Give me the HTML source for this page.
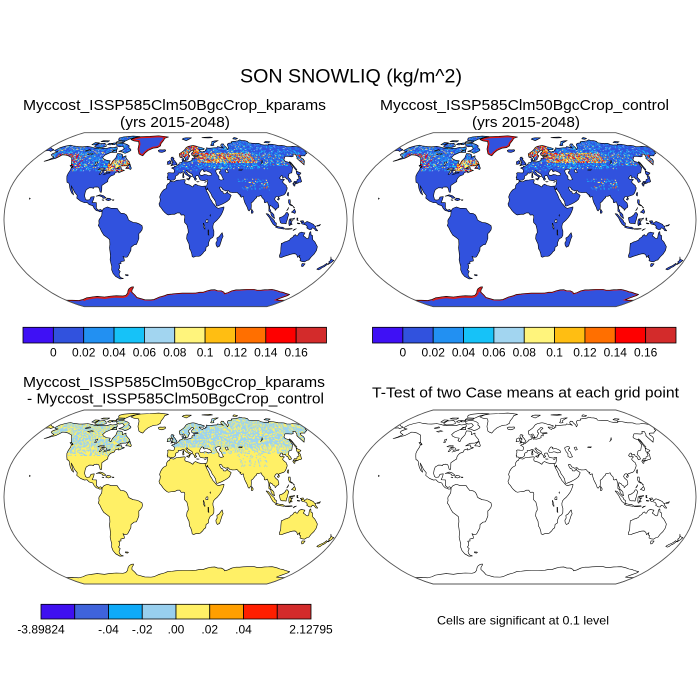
<!DOCTYPE html>
<html><head><meta charset="utf-8">
<style>html,body{margin:0;padding:0;background:#fff;}svg{display:block;}</style>
</head>
<body>
<svg id="s" width="700" height="700" viewBox="0 0 700 700" xmlns="http://www.w3.org/2000/svg" font-family="'Liberation Sans', Arial, sans-serif" fill="#000">
<rect width="700" height="700" fill="#fff"/>
<g id="maps"></g>

<text x="351" y="82.5" font-size="19" text-anchor="middle" textLength="222" lengthAdjust="spacingAndGlyphs">SON SNOWLIQ (kg/m^2)</text>

<text x="174.5" y="110" font-size="15" text-anchor="middle" textLength="303" lengthAdjust="spacingAndGlyphs">Myccost_ISSP585Clm50BgcCrop_kparams</text>
<text x="175" y="127" font-size="15" text-anchor="middle" textLength="110" lengthAdjust="spacingAndGlyphs">(yrs 2015-2048)</text>
<text x="524.5" y="110" font-size="15" text-anchor="middle" textLength="289" lengthAdjust="spacingAndGlyphs">Myccost_ISSP585Clm50BgcCrop_control</text>
<text x="526" y="127" font-size="15" text-anchor="middle" textLength="108" lengthAdjust="spacingAndGlyphs">(yrs 2015-2048)</text>

<text x="174" y="387" font-size="15" text-anchor="middle" textLength="302" lengthAdjust="spacingAndGlyphs">Myccost_ISSP585Clm50BgcCrop_kparams</text>
<text x="175.5" y="403.5" font-size="15" text-anchor="middle" textLength="297" lengthAdjust="spacingAndGlyphs">- Myccost_ISSP585Clm50BgcCrop_control</text>
<text x="525.5" y="397.5" font-size="15" text-anchor="middle" textLength="307" lengthAdjust="spacingAndGlyphs">T-Test of two Case means at each grid point</text>
<text x="523" y="624.5" font-size="12" text-anchor="middle" textLength="172" lengthAdjust="spacingAndGlyphs">Cells are significant at 0.1 level</text>

<g stroke="#000" stroke-width="0.8">
<rect x="23" y="327.3" width="30.35" height="15.7" fill="#3f10f5"/>
<rect x="53.35" y="327.3" width="30.35" height="15.7" fill="#3152de"/>
<rect x="83.7" y="327.3" width="30.35" height="15.7" fill="#2290f2"/>
<rect x="114.05" y="327.3" width="30.35" height="15.7" fill="#16c2f8"/>
<rect x="144.4" y="327.3" width="30.35" height="15.7" fill="#a2d5f0"/>
<rect x="174.75" y="327.3" width="30.35" height="15.7" fill="#fff47c"/>
<rect x="205.1" y="327.3" width="30.35" height="15.7" fill="#ffbe12"/>
<rect x="235.45" y="327.3" width="30.35" height="15.7" fill="#ff6f00"/>
<rect x="265.8" y="327.3" width="30.35" height="15.7" fill="#fe0000"/>
<rect x="296.15" y="327.3" width="30.35" height="15.7" fill="#d32b2b"/>
</g>
<g font-size="12" text-anchor="middle">
<text x="53.35" y="356.5">0</text>
<text x="83.7" y="356.5">0.02</text>
<text x="114.05" y="356.5">0.04</text>
<text x="144.4" y="356.5">0.06</text>
<text x="174.75" y="356.5">0.08</text>
<text x="205.1" y="356.5">0.1</text>
<text x="235.45" y="356.5">0.12</text>
<text x="265.8" y="356.5">0.14</text>
<text x="296.15" y="356.5">0.16</text>
</g>

<g stroke="#000" stroke-width="0.8">
<rect x="372.5" y="327.3" width="30.35" height="15.7" fill="#3f10f5"/>
<rect x="402.85" y="327.3" width="30.35" height="15.7" fill="#3152de"/>
<rect x="433.2" y="327.3" width="30.35" height="15.7" fill="#2290f2"/>
<rect x="463.55" y="327.3" width="30.35" height="15.7" fill="#16c2f8"/>
<rect x="493.9" y="327.3" width="30.35" height="15.7" fill="#a2d5f0"/>
<rect x="524.25" y="327.3" width="30.35" height="15.7" fill="#fff47c"/>
<rect x="554.6" y="327.3" width="30.35" height="15.7" fill="#ffbe12"/>
<rect x="584.95" y="327.3" width="30.35" height="15.7" fill="#ff6f00"/>
<rect x="615.3" y="327.3" width="30.35" height="15.7" fill="#fe0000"/>
<rect x="645.65" y="327.3" width="30.35" height="15.7" fill="#d32b2b"/>
</g>
<g font-size="12" text-anchor="middle">
<text x="402.85" y="356.5">0</text>
<text x="433.2" y="356.5">0.02</text>
<text x="463.55" y="356.5">0.04</text>
<text x="493.9" y="356.5">0.06</text>
<text x="524.25" y="356.5">0.08</text>
<text x="554.6" y="356.5">0.1</text>
<text x="584.95" y="356.5">0.12</text>
<text x="615.3" y="356.5">0.14</text>
<text x="645.65" y="356.5">0.16</text>
</g>

<g stroke="#000" stroke-width="0.8">
<rect x="41" y="604.3" width="33.75" height="14.7" fill="#3f10f0"/>
<rect x="74.75" y="604.3" width="33.75" height="14.7" fill="#3f63db"/>
<rect x="108.5" y="604.3" width="33.75" height="14.7" fill="#0eaaf8"/>
<rect x="142.25" y="604.3" width="33.75" height="14.7" fill="#98cfee"/>
<rect x="176" y="604.3" width="33.75" height="14.7" fill="#fff066"/>
<rect x="209.75" y="604.3" width="33.75" height="14.7" fill="#ff9f00"/>
<rect x="243.5" y="604.3" width="33.75" height="14.7" fill="#ff1f00"/>
<rect x="277.25" y="604.3" width="33.75" height="14.7" fill="#d32b2b"/>
</g>
<g font-size="12" text-anchor="middle">
<text x="41" y="633.5">-3.89824</text>
<text x="108.5" y="633.5">-.04</text>
<text x="142.25" y="633.5">-.02</text>
<text x="176" y="633.5">.00</text>
<text x="209.75" y="633.5">.02</text>
<text x="243.5" y="633.5">.04</text>
<text x="311" y="633.5">2.12795</text>
</g>
</svg>

<script>
(function(){
var R=64.33;
var T=[[1,0],[0.9986,0.062],[0.9954,0.124],[0.99,0.186],[0.9822,0.248],[0.973,0.31],[0.96,0.372],[0.9427,0.434],[0.9216,0.4958],[0.8962,0.5571],[0.8679,0.6176],[0.835,0.6769],[0.7986,0.7346],[0.7597,0.7903],[0.7186,0.8435],[0.6732,0.8936],[0.6213,0.9394],[0.5722,0.9761],[0.5322,1]];
function rob(lon,lat){var a=Math.min(Math.abs(lat),90)/5;var i=Math.floor(a);if(i>=18)i=17;var f=a-i;
var X=T[i][0]+(T[i+1][0]-T[i][0])*f,Y=T[i][1]+(T[i+1][1]-T[i][1])*f;
return [R*0.8487*X*lon*Math.PI/180,-R*1.3523*Y*(lat<0?-1:1)];}
function P(arr){var d='';for(var i=0;i<arr.length;i+=2){var p=rob(arr[i],arr[i+1]);d+=(i?'L':'M')+p[0].toFixed(2)+','+p[1].toFixed(2);}return d;}

var NA=[-168,65.5,-166,68.5,-161,70.3,-156,71.3,-150,70.4,-141,69.7,-135,69.5,-128,70,-120,69,-115,68,-108,68,-98,67.8,-94,69,-90,68.5,-85,69.5,-82,67,-87,64,-93,61,-94.5,58.5,-92,57,-87,55.5,-82,55,-82,52.5,-79,51.5,-79,54.5,-77,58,-78,62.3,-73,62,-70,61,-69,58.5,-65,60,-64,58,-61,56,-57,53.5,-56,52,-60,50.2,-66,50,-70,47.5,-65,48.5,-64,46.5,-61,46,-60,45.8,-63.5,44.5,-66,43.5,-66.5,45,-67,44.5,-70,43.7,-70.5,41.7,-74,40.5,-75.5,38.5,-76,37,-75.5,35.3,-78,33.8,-81,31.7,-80,27,-80.2,25.2,-81.5,25.8,-82.6,28,-84,30,-86,30.4,-89,30.2,-89.5,29,-91,29.5,-94,29.6,-97,27.8,-97.5,25,-97.5,22,-96,19,-94.5,18.2,-91.5,18.5,-90.5,21,-87,21.5,-87.5,18.5,-88.5,16,-84,15.8,-83.5,12,-83.5,10.5,-81,8.8,-79,9.5,-77.3,8.5,-78,7.5,-80,7.3,-81,8,-83.5,8.5,-85.8,10.5,-87.5,13,-91.5,14,-94,16,-96.5,15.7,-101,17.2,-105.5,20,-105.5,22.5,-109,25.5,-112.5,29.5,-114.7,31.5,-113,29,-110,24,-109.5,23,-112,24.8,-114.5,28,-116,30.5,-117.2,32.7,-118.5,34,-120.6,34.6,-122.5,37.7,-124,40.5,-124.3,43,-124,46.3,-124.7,48.4,-123,49,-127,51,-130,54.5,-134,58,-137.5,59,-141,60,-146,60.8,-150,61,-152,59,-154,57.5,-158,56.5,-162,55,-164.5,54.5,-161,56,-157.5,58.5,-162,59.8,-165,61,-165,62.5,-161,64.3,-164.5,64.5];
var GR=[-73,78,-68,80.5,-60,82,-45,82.6,-30,83.5,-20,82.5,-12,81.5,-18,79.5,-19,77,-22,73,-22,70.5,-26,68.5,-32,68,-38,65.5,-41,63,-43,60,-46,60.8,-49,62,-51,64.5,-53,67,-54,70,-55,72.5,-58,75.5,-66,76.3];
var SA=[-77.3,8.5,-75.5,10.5,-72,11.8,-68,10.6,-64,10.6,-61.5,10.5,-60,8.5,-57.5,6,-54,5.7,-51.5,4.3,-50,1.8,-49.5,0,-48,-1,-44.5,-2.5,-41,-2.9,-38.5,-3.7,-35.2,-5.5,-34.8,-7.5,-35.3,-9.5,-37,-11.5,-38.8,-13,-39,-17.5,-40.5,-20.5,-42,-23,-44.5,-23.3,-48,-25.5,-48.6,-28.5,-50.5,-31,-52.5,-33.5,-54,-34.7,-56.5,-34.8,-58.3,-34,-57.5,-36.3,-57.7,-38.2,-62,-39,-62.3,-40.8,-65,-41,-64.5,-42.5,-65.5,-45,-67.5,-46.5,-66,-48,-68.5,-50.5,-69,-52.3,-68.5,-54,-65.5,-55,-70,-55.3,-74,-53,-75.5,-50,-75.5,-46.5,-74,-43.5,-73.8,-41,-73.5,-37.2,-72,-33.5,-71.5,-30,-71.4,-26,-70.5,-23,-70.2,-18.5,-72,-17,-76,-14.3,-78,-11,-79.8,-7.2,-81.2,-5.5,-80.3,-3.5,-80.5,-1,-80,0.5,-79,1.5,-77.5,4,-77.3,7];
var AF=[-5.9,35.8,-2,35.1,1,36.5,5,36.8,9.8,37.3,11,36.9,10.2,34.3,11,33.3,15.2,32.3,19,30.3,20,31.8,22,32.9,25,31.7,29,30.9,32.3,31.2,32.6,29.9,33.5,27,35.5,23.5,37.2,19,38.5,17.5,39.5,15.5,41.5,13.5,43.2,11.5,45,10.5,48,11.2,51.2,11.8,51,10.4,49.5,7,48,4.5,46,2,43.5,-0.5,41.5,-2,40,-3.5,39.3,-6,39.5,-8,40.5,-10.5,40.6,-14.5,39.5,-16.5,37,-17.8,35.5,-21,35.5,-24,33,-25.5,32.9,-28.5,31,-29.8,30,-31.3,27.5,-33.5,25.5,-34,22.5,-34,20,-34.8,18.5,-34.2,18,-32,16.5,-28.5,15.2,-27,14.5,-22.5,13,-20,11.8,-17.5,12.2,-14,13.5,-12,13.2,-9,12.3,-6,12,-4.8,9.5,-2.5,9.3,0,9.8,2.5,9.5,4,8.5,4.5,6,4.3,4.5,6.3,2,6.3,-1,5,-3,5.1,-7.5,4.4,-9,5,-11.5,6.8,-13.2,8.5,-15,10.8,-16.8,12.5,-17.5,14.7,-16.5,16.5,-16.2,19,-17,21,-16,23.8,-14.5,26,-13,27.6,-10,29,-9.8,31.5,-8.5,33.3,-6.8,34];
var EU=[26.2,40.3,26,40.8,24,40.8,23,40.3,22.6,40,23,39.2,22.8,38,24,38,23,37,22.5,36.5,21.7,36.8,21.2,37.8,21.5,38.4,20.7,39,20,39.7,19.4,40.3,19.5,41.7,18.5,42.5,17,43.2,15.2,44.2,14,44.9,13.6,45.7,12.3,45.3,12.4,44.3,13.6,43.5,14.5,42,16,41.4,18.5,40.2,17,39.6,16.5,38.9,16,37.9,15.6,38.3,15.8,39.5,15.3,40.1,14.2,40.8,13,41.3,11.2,42.4,10.5,43.5,9.5,44.2,8.5,44.2,7.5,43.8,6,43.1,4.5,43.4,3.1,43.1,3.2,41.9,2.2,41.3,0.8,41,-0.3,39.5,0.2,38.7,-0.7,37.6,-2.1,36.7,-4.4,36.7,-5.6,36,-6.5,36.8,-7.5,37.2,-9,37,-8.8,38.7,-9.5,38.8,-8.7,41,-8.8,42.5,-9.3,43,-8,43.7,-5,43.5,-2,43.4,-1.5,44,-1.2,46,-2.3,47.2,-4.7,48,-3,48.8,-1.5,48.7,-1.3,49.7,0.2,49.5,1.5,50.2,2.5,51.1,4,51.5,4.8,53,7,53.5,8.5,53.8,8.5,55.5,8.2,56.8,10,57.6,10.5,56.5,10.2,55,11,54,13,54.3,14.5,53.9,18.5,54.7,21,55.5,21,57,22,57.6,24,57.2,24.3,58.3,23.5,59.2,28,59.5,30,60,29,60.4,23,60,21.5,60.8,21.5,62.5,25.5,65,24,65.8,22,65.5,21,64.5,19,63.5,17.5,62.5,17.2,61,18.8,60,18,59,16.5,57.5,16,56.2,14.3,55.5,13,55.5,12.7,56.5,11.8,58,11,59.1,10,59,8,58.1,6,58.3,5.2,60,5,62,7,63,10,64.5,12.5,66,14.5,68,16,69,19,70,23,70.6,26,71,29,70.5,31,70,33,69.3,36,69,41,67.5,39.5,66.3,35,66.2,33,66.3,34.5,64.5,37,63.8,38,64.5,40.5,64.5,42,66.3,44,66.2,44.3,68.4,46.5,68,50,68,53.5,68.3,57,68.6,59.5,68.6,61,69.7,64,69.2,67,68.7,68.5,68.1,66.5,70.5,67.5,71.6,69.5,72.8,72.5,72.7,72,71,73.5,68.5,72.8,66.5,74.5,67.5,76,68.5,77.5,72,80.5,73.5,86.5,74,87,75.2,90,75.6,95,76,100,76.5,104,77.7,107,76.8,111,76.7,113.5,75.7,112.5,74,118,73.5,124,73.5,127,73.4,129,72,132,71.5,135,71.6,139,71.5,140,72.5,146,72.3,150,71.5,152,70.9,157,71,160,70.8,162,69.6,167,69.6,170.5,70,176,69.8,180,68.9,180,65,178,64.5,177,62.5,173,61.5,170,60,166,60,163.5,59.8,162,58,163,56.5,161.8,54.8,160,53.5,158.5,52.5,156.7,51,155.8,55,155.8,57.5,157,58,160,61.5,157,61.8,154,59.5,151,59,147,59.3,143,59.3,140.7,58,137.5,56,137.5,54.5,141,53.5,140.5,51,140.3,48.5,138.5,47,135,43.5,132,43,130.7,42.3,129.7,41,128,39.5,129.4,37,129.3,35.3,126.5,34.5,126.3,36.8,126.5,37.7,125,37.8,124.7,39.6,122,39,121.2,38.8,122.3,40.5,121,40.8,118.5,39.2,117.7,38.5,118.8,37.2,119.2,37.2,120.7,37.8,122.5,37.2,120.3,36,119.2,34.8,120.5,33,121.9,31.7,121.5,30.5,122,29.8,121.5,28.5,120,26.5,118.5,24.5,116.5,23,113.5,22.2,111,21.5,110.2,20.3,109.7,21.5,108,21.5,106.7,20.5,105.7,19,106.5,17.5,108.8,15.5,109.3,13,109,11.5,107,10.5,105,8.6,104.8,10.2,103,11,102.3,12.2,101,12.7,100,13.5,99.2,10.5,100.3,8.5,100.5,7,102,6.2,103.4,4.5,103.5,2.5,104.2,1.4,103.5,1.3,101.5,2.8,100.4,4.5,100.3,6.5,98.3,8,98.5,10,98.7,12.5,97.7,16.5,97.3,16.5,95.5,15.8,94.3,16,94.5,18.5,93,20,92.3,21,91.8,22.5,90.5,22,89,21.7,87,21.5,86.8,20.5,85,19.3,82.2,16.6,80.3,15.5,80.2,13.2,79.8,10.3,78.2,8.9,77.5,8.1,76.5,9,75.7,11.5,74.7,13.5,73.5,16,72.8,19,72.8,21,72.5,21.5,70.5,20.8,69,22.3,70.3,22.8,68.5,23.3,67.3,24.5,66.5,25.4,64.5,25.2,61.5,25.1,58.5,25.6,57.3,27,56.3,27.2,54.5,26.6,52.5,27.5,51.5,27.9,50.2,30,48.9,30.3,48,30,48.4,28.5,49.2,27,50.1,26.2,51.2,26.1,51.6,24.3,54,24.1,55.5,25.5,56.3,26.3,56.5,24.5,58.5,23.6,59.8,22.5,58.5,20.5,57.8,19,56.3,17.9,55,17,52.2,15.6,49,14.2,45,12.8,43.5,12.7,42.8,14.8,42.7,16.5,41.2,19,39.2,21.5,38.5,23.5,37,25.8,35.2,28,34.9,29.5,34.3,27.8,33.6,28,32.6,29.9,32.3,31.2,34.2,31.3,35,33,35.9,35.5,36,36.8,34.5,36.8,32.5,36.1,30.5,36.3,28,36.7,27.3,37.5,26.5,39.5];
var AU=[113.5,-22,114,-26,115,-30,115,-33.5,116,-35,118,-35,121,-33.8,124,-33,126,-32.3,129,-31.6,131.5,-31.5,134,-32.8,135.8,-34.9,137.5,-33,137.8,-35.2,139.5,-35.6,140.5,-38,143.5,-38.8,146.4,-39.1,148,-37.8,150,-37.3,150.8,-34.5,152.5,-32,153.5,-28.5,153,-25,150.8,-22.5,149,-20.5,146.3,-18.5,145.5,-16,145.3,-14.8,143.5,-14,142.8,-11,142,-11.5,141.5,-13.5,141.6,-16.5,140.8,-17.5,139.3,-17.3,137.5,-16,135.5,-15,136.8,-12.2,135.5,-12,133,-11.5,131,-12.2,130,-13.3,129.5,-14.9,128,-14.9,127,-13.8,125.5,-14.5,124.5,-16.3,122.5,-17.3,121.5,-19,119,-20,116.8,-20.6,114.5,-21.8];
var ANT=[-180,-78.5,-170,-78.4,-160,-78.8,-150,-77.5,-140,-75.5,-130,-74.5,-120,-73.7,-110,-74.5,-100,-73.5,-90,-73,-80,-73.3,-75,-72.5,-70,-70,-67,-67,-64,-65,-60,-63.5,-57,-63.3,-58,-64.5,-61,-66.5,-63,-69,-61,-72,-60,-75,-50,-77.8,-40,-78,-35,-77.5,-30,-76,-25,-74.5,-17,-73,-12,-71.5,-5,-71,0,-70.5,10,-70,20,-70,30,-69.8,35,-69,40,-69,45,-67.5,50,-66.5,55,-66.3,60,-67.5,65,-67.5,70,-69,72,-70.5,76,-69.5,80,-67.5,85,-66.5,90,-66.5,95,-66.2,100,-66,105,-66,110,-66,115,-66.8,120,-66.8,125,-66.3,130,-66.2,135,-66,140,-66.7,145,-67.5,150,-68.5,155,-69,160,-70,165,-70.8,170,-71.5,170,-73,166,-76,165,-78,170,-78.5,180,-78.5];
var ANTpoly=ANT.concat([180,-84,180,-90,-180,-90,-180,-84]);
var ISL=[
[-80,73.7,-72,72,-68,70.5,-67,68.5,-63,66.8,-62,65.5,-65,63.5,-68,62.5,-73,64,-78,64.5,-74,66,-73,68,-77,70,-82,69.5,-86,70.5,-89,72.5,-85,73.5],
[-118,71,-117,73,-108,73.5,-104,72,-101,70,-105,68.9,-112,68.6,-117.5,69.5],
[-90,76.5,-80,76,-75,79,-68,81,-62,82.3,-75,83,-90,81.7,-95,80,-93,78],
[-92,74.7,-80,74.5,-80,76.3,-90,76.7],
[-125,71.8,-120,71.5,-117,74,-124,74.3],
[-87,63.5,-80,63.5,-82,65.8,-86,66],
[-117,75.5,-106,75,-105,76.5,-115,76.6],
[-102,72,-97,71.5,-96,73.5,-101,73.5],
[-95,72,-91,72,-90,74,-95,73.8],
[-59.3,47.6,-56,47.5,-53,46.7,-52.7,48,-54,49.5,-55.5,51.6,-57.5,50.5],
[-128.3,50.8,-125,50,-123.3,48.4,-124.7,48.6,-127,50],
[-85,21.8,-81,23.1,-77.5,22.3,-74.2,20.2,-77.5,19.8,-78,21,-82,22.2],
[-74.4,18.5,-72.8,19.9,-69.9,19.7,-68.4,18.6,-71.4,17.6],
[-78.3,18.4,-76.3,18.2,-77,17.8],
[-67.2,18.5,-65.6,18.4,-65.8,18,-67.2,18],
[-61.3,-51.2,-58,-51.3,-57.7,-51.7,-59,-52.3,-61,-52],
[-155.9,20.2,-155,19.5,-155.9,19],
[-22.5,64,-24,65.5,-22,66.3,-18,66.1,-14.5,66.4,-13.5,65.2,-15,64.3,-18.5,63.4],
[-5.7,50.1,-3,50.7,1.4,51.2,1.7,52.7,0.3,53.4,-0.3,54.5,-1.5,55.5,-2,56,-3,56.3,-1.8,57.5,-3.5,57.7,-3,58.6,-5,58.6,-5.8,57.5,-5.6,56.3,-4.9,55.7,-5,54.8,-3.2,54.9,-3.5,54,-3,53.3,-4.5,53.3,-4.2,52.3,-5.2,51.8,-3.2,51.4,-4.5,51],
[-6,52.2,-6.2,53.8,-5.5,54.5,-7.3,55.3,-8.5,54.5,-10,54.2,-10,53,-9.5,52.2,-10.3,51.7,-8.5,51.6],
[11,55.3,12.6,56,12.4,55.2,11.2,55.2],
[12.4,37.8,15.6,38.3,15.1,36.7],
[8.4,39,8.2,40.9,9.2,41.2,9.7,40,9.5,39.1],
[8.6,41.4,8.6,42.9,9.4,43,9.5,41.8,9.2,41.4],
[23.5,35.3,26.3,35.2,24.5,35],
[32.3,34.7,34.6,35.6,33.9,35],
[11,78.5,14,79.8,18,80.3,27,80.2,22,78.3,17,76.6,13,78],
[52,71.3,55,73,57,75.5,62,76.3,68.5,76.8,64,75.5,58,73.5,57,71.2,53.5,70.7],
[95,79,100,80.8,104,79.5,99,78.3],
[137,74.5,142,75.7,148,75.2,142,73.8],
[45,80.5,50,81,60,81.5,63,80.5,55,80],
[-180,68.9,-175,67.3,-171,66.5,-169.8,66,-172,64.5,-175,65.5,-178,65.2,-180,65],
[49.3,-12,50.5,-15.5,49.5,-17.5,48.8,-20,47.5,-24.5,45.2,-25.5,43.7,-23.5,43.3,-21.5,44.5,-19.5,44,-17,46.3,-15.7,48,-13.5],
[130.9,34,132.5,35.5,135.5,35.6,136.8,37.3,139.5,38,140,40.5,141.5,41.4,142,39.5,141,37,140.8,35.5,139.8,35,138.5,34.6,137,34.6,135.5,33.7,134.7,34.2,133,34.3],
[129.7,33.3,131,33.9,131.8,32.5,131,31.2,130.2,31.3],
[132.5,33,134.7,33.8,134.2,34.3,133,34],
[140,41.5,140.2,43.2,141.7,45.4,143.5,44.2,145.5,43.3,143.3,42,141,41.7],
[142,46,143.5,46.5,143,49.5,143.2,53,142.5,54.3,141.7,53.5,142,51,141.8,48],
[120.2,22.5,120.1,23.5,121.5,25.3,122,25,121,22],
[108.7,19,110.5,20.1,111,19.7,110,18.2,108.7,18.5],
[79.8,6.1,79.8,8,80.3,9.8,81.8,7.5,81.3,6.2,80.2,5.9],
[120,16,120.5,18.5,122.2,18.5,122,16.5,121.5,14.5,124,13,123.5,12.7,121,13.8,120.6,14.5],
[122,7,123.5,8,125.5,9.8,126.5,7.3,125.5,5.8,124,6.5],
[124.3,12.5,125.7,11,125,11],
[117.2,8.4,119.5,11.3,118.5,9.5],
[95.3,5.6,97.5,5.2,100.5,2,103.5,-0.5,104.5,-2.5,106,-3.2,105.8,-5.8,104.5,-5.6,102.3,-4,100.5,-1.5,98.7,1.7],
[105.2,-6.8,106.5,-6,108.5,-6.5,110.5,-6.9,112.5,-6.9,114.5,-7.8,114.4,-8.7,111,-8.2,108,-7.8,105.5,-7],
[109,1.7,109.5,-0.5,110.2,-2.8,111.8,-3.5,114.5,-3.5,116.2,-3.8,116.5,-2,117.5,0.5,117.8,1.8,119,5,117.5,6.8,116.3,6.5,115.4,5,113,3.2,111.4,2.5,109.6,2],
[119.5,-5.5,119,-3.5,119.2,-0.5,120,0.7,123,1,125,1.5,124.5,0.5,121,0.4,120.5,-1,123.3,-0.9,121.5,-1.8,122.5,-4.5,121,-4.5,120.5,-2.8,120.4,-5.5],
[131,-1.3,134,-0.9,135.5,-3.4,138,-1.6,141,-2.6,145,-4.3,146,-5.6,147.5,-6.1,147.2,-7.4,150,-10.3,148,-10.2,146,-8.2,144,-7.6,143,-9.2,141,-9.1,139,-8.1,138,-7.5,138.8,-6.8,137.5,-5.1,135.2,-4.4,133,-4,132,-2.8,133.5,-2.4,132,-2],
[124,-10.1,125,-9,127.3,-8.4,126,-9],
[115.2,-8.4,119,-8.3,122.5,-8.2,123,-8.5,119,-8.9,115.5,-8.8],
[128,-3,130.8,-3.5,130,-3.9,128,-3.5],
[127.5,1.5,128.5,1.5,128,0,128.8,-0.8,127.5,-0.5],
[148.5,-5.5,151,-4.9,152.3,-4.3,151.5,-5.6,148.5,-6],
[144.7,-40.7,148.3,-40.9,148,-43.2,146.8,-43.6,145.3,-42.3],
[172.7,-34.5,174.5,-36.5,175.8,-37,178.5,-37.7,177.5,-39.2,176.8,-40,175.3,-41.6,174.6,-41.2,175.2,-40,173.8,-39.2,174.6,-38,174.3,-36.7],
[172.7,-40.5,174.3,-41.3,173.3,-43,172.7,-43.8,171.2,-44.5,170.5,-45.9,169,-46.6,166.5,-46,166.8,-45.3,168.4,-44,170.8,-42.8,172,-41.5]
];
var LAKES=[
[-92,46.7,-89,48,-85,47.8,-84.6,46.5,-87.5,46.5],
[-87.8,42,-87,45.5,-85,46,-85.5,44,-86.5,42.2],
[-84,46,-81.5,45.5,-80,44.5,-82,43,-83.5,44],
[-83.5,41.6,-79,42.8,-81,42.3],
[-79.8,43.3,-76.2,44,-76.5,43.3],
[-98,50.5,-96.5,50.5,-97,54,-99,53.5],
[-117,61.5,-113,62.5,-110,62,-114,61],
[-125,65,-120,66.5,-118,65.5,-123,64.8],
[104,51.6,106,52.5,109.5,55.7,108,53.5],
[47,45.5,49,46.5,51.5,47,53,46.5,53,45,51,44.5,51,43,52.5,41.8,53,40,53.5,38.5,54,37.3,51,36.7,49,37.6,49.5,40.3,48,42,47.5,43.5],
[28,41.8,29,41.2,31,41.2,33.5,42,35.5,41.7,38,40.9,41.5,41.5,41.6,42.6,39.8,44,37.5,44.7,36.5,45.3,35.5,45.3,35,45,33.5,44.5,32.5,45.4,33.5,46,31.5,46.6,30.5,46,29.6,45.2,28.7,44.3,28,43],
[58.5,46,61,46.5,61.5,44,59,43.5],
[75,46.5,79,46.5,78,45.8,74.5,46],
[31.8,-1,33,0.3,34,0,34,-2.5,32,-2.5],
[29.2,-3.3,29.6,-3.3,31,-7.5,31,-8.7,30.5,-8.5,29.5,-6.5],
[34.3,-9.5,34.8,-9.5,35.3,-14.3,34.5,-13.8],
[36.5,3.5,36.8,4.6,36.2,4.2]
];
var LAND=[NA,GR,SA,AF,EU,AU,ANTpoly].concat(ISL);
var landD=LAND.map(function(a){return P(a)+'Z';}).join('');
var lakeD=LAKES.map(function(a){return P(a)+'Z';}).join('');
var glD=P(GR)+'Z';
var anCoast=P(ANT);
var anWest=P(ANT.slice(6,40));
var o=[];for(var la=-90;la<=90;la+=2)o.push(180,la);for(var la2=90;la2>=-90;la2-=2)o.push(-180,la2);
var outD=P(o)+'Z';

function pip(lon,lat,arr){var c=false;for(var i=0,j=arr.length-2;i<arr.length;j=i,i+=2){var xi=arr[i],yi=arr[i+1],xj=arr[j],yj=arr[j+1];if(((yi>lat)!=(yj>lat))&&(lon<(xj-xi)*(lat-yi)/(yj-yi)+xi))c=!c;}return c;}
function rng(seed){return function(){seed|=0;seed=seed+0x6D2B79F5|0;var t=Math.imul(seed^seed>>>15,1|seed);t=t+Math.imul(t^t>>>7,61|t)^t;return((t^t>>>14)>>>0)/4294967296;};}
function f1(v){return v.toFixed(1);}
function cell(lon,lat,dl,dp){var a=rob(lon,lat),b=rob(lon+dl,lat),c=rob(lon+dl,lat+dp),d=rob(lon,lat+dp);
return 'M'+f1(a[0])+','+f1(a[1])+'L'+f1(b[0])+','+f1(b[1])+'L'+f1(c[0])+','+f1(c[1])+'L'+f1(d[0])+','+f1(d[1])+'Z';}

var L='#2290f2',C='#16c2f8',Pa='#a2d5f0',Y='#fff47c',O1='#ffbe12',O='#ff6f00',Rd='#fe0000',DR='#d32b2b';
function topDist(lon,lat){
if(lon>=-82&&lon<=-56&&lat>=45&&lat<=56)return [[Y,.22],[O1,.2],[O,.15],[Rd,.12],[C,.08],[Pa,.05]];
if(lon>=-155&&lon<=-128&&lat>=55&&lat<=62)return [[Rd,.25],[DR,.1],[O,.15],[Y,.1],[C,.1]];
if(lon>=-135&&lon<=-115&&lat>=48&&lat<=60)return [[C,.15],[Y,.1],[Rd,.1],[O,.08],[L,.1]];
if(lon>=-170&&lon<=-50&&lat>=45&&lat<=84)return [[L,.2],[C,.14],[Pa,.04],[Y,.04],[O1,.02]];
if(lon>=4&&lon<=32&&lat>=57&&lat<=71)return [[Rd,.22],[O,.18],[Y,.15],[O1,.12],[C,.1],[DR,.05]];
if(lon>=155&&lon<=165&&lat>=50&&lat<=61)return [[O,.22],[Rd,.15],[Y,.15],[C,.1]];
if(lon>=28&&lon<=100&&lat>=53&&lat<=63)return [[Y,.24],[O1,.16],[O,.14],[Rd,.12],[C,.12],[Pa,.04]];
if(lon>=28&&lon<=100&&lat>63&&lat<=74)return [[C,.16],[L,.18],[Y,.05],[Pa,.04]];
if(lon>=100&&lon<=140&&lat>=50&&lat<=62)return [[C,.16],[L,.15],[Y,.08],[O,.03]];
if(lon>=-10&&lon<=180&&lat>=62)return [[L,.15],[C,.08],[Pa,.03]];
if(lon>=140&&lon<=180&&lat>=50)return [[L,.12],[C,.08],[Y,.03]];
if(lon>=28&&lon<=110&&lat>=47&&lat<53)return [[L,.25],[C,.15],[Y,.03]];
if(lon>=0&&lon<28&&lat>=45&&lat<57)return [[L,.15],[C,.08],[Y,.02]];
if(lon>=70&&lon<=102&&lat>=27&&lat<=38)return [[C,.06],[L,.05],[Y,.04],[O,.02]];
return null;}
function botP(lon,lat){
if(lon>=4&&lon<=60&&lat>=54&&lat<=72)return .8;
if(lon>=-170&&lon<=-52&&lat>=38&&lat<=76)return lat>46?.62:.4;
if(lon>=-10&&lon<=180&&lat>=46&&lat<=78)return .68;
if(lon>=30&&lon<=140&&lat>=40&&lat<46)return .35;
if(lon>=70&&lon<=102&&lat>=28&&lat<40)return .15;
return 0;}

var dl=1.25,dp=1.0;
var rt=rng(12345),topSp={},rb=rng(777),botD='';
for(var lat=24;lat<84;lat+=dp){for(var lon=-180;lon<180;lon+=dl){
var cx=lon+dl/2,cy=lat+dp/2;
if(cx>-75&&cx<-10&&cy>59&&pip(cx,cy,GR))continue;
var dist=topDist(cx,cy);
if(dist){var r=rt(),acc=0;for(var k=0;k<dist.length;k++){acc+=dist[k][1];if(r<acc){topSp[dist[k][0]]=(topSp[dist[k][0]]||'')+cell(lon,lat,dl,dp);break;}}}
var pb=botP(cx,cy);
if(pb>0&&rb()<pb)botD+=cell(lon,lat,dl,dp);
}}
var topSpS='';for(var col in topSp)topSpS+='<path d="'+topSp[col]+'" fill="'+col+'"/>';

function mapSVG(cx,cy,type){
var s='<g transform="translate('+cx+','+cy+')">';
if(type==='top'){
s+='<path d="'+landD+'" fill="#3152de"/>';
s+='<g clip-path="url(#lc)">'+topSpS+'</g>';
s+='<g clip-path="url(#gc)"><path d="'+glD+'" fill="none" stroke="#e01818" stroke-width="3"/></g>';
s+='<g clip-path="url(#ac)"><path d="'+anCoast+'" fill="none" stroke="#f01010" stroke-width="1.6"/><path d="'+anWest+'" fill="none" stroke="#d82020" stroke-width="4"/></g>';
}else if(type==='bot'){
s+='<path d="'+landD+'" fill="#fff066"/>';
s+='<g clip-path="url(#lc)"><path d="'+botD+'" fill="#9dd3ee"/></g>';
}
s+='<path d="'+lakeD+'" fill="'+(type==='tt'?'none':'#fff')+'" stroke="#000" stroke-width="0.55"/>';
s+='<path d="'+landD+'" fill="none" stroke="#000" stroke-width="0.6" stroke-linejoin="round"/>';
s+='<path d="'+outD+'" fill="none" stroke="#555" stroke-width="0.9"/>';
return s+'</g>';}

var defs='<defs><clipPath id="lc"><path d="'+landD+'"/></clipPath><clipPath id="gc"><path d="'+glD+'"/></clipPath><clipPath id="ac"><path d="'+P(ANTpoly)+'Z"/></clipPath></defs>';
document.getElementById('maps').innerHTML=defs+mapSVG(175.5,219.7,'top')+mapSVG(524.5,219.7,'top')+mapSVG(175.5,497,'bot')+mapSVG(524.5,497,'tt');
})();
</script>
</body></html>
